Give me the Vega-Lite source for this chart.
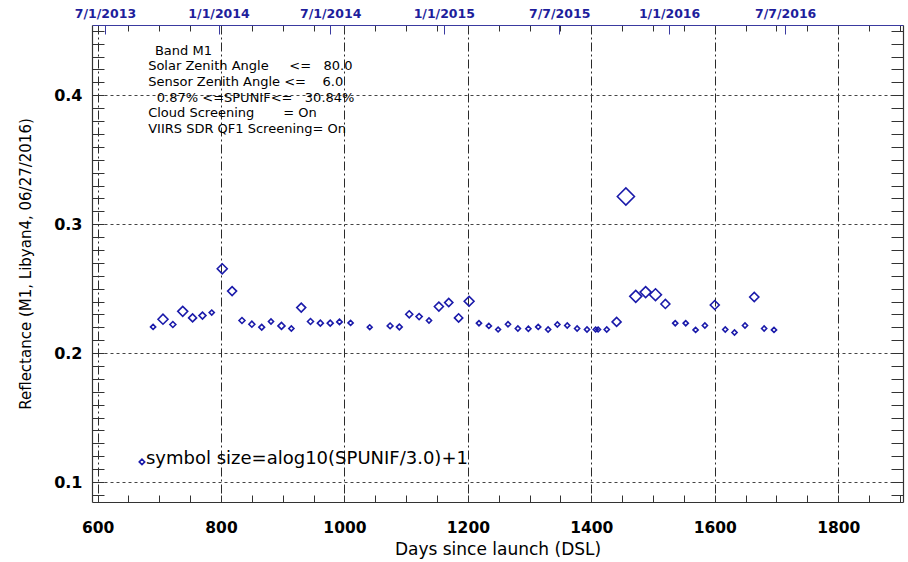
{
  "$schema": "https://vega.github.io/schema/vega-lite/v6.json",
  "width": 811,
  "height": 477,
  "autosize": {"type": "none"},
  "padding": {"left": 92, "top": 25, "right": 5, "bottom": 60},
  "background": "white",
  "config": {
    "view": {"stroke": null},
    "font": "DejaVu Sans",
    "axis": {"labelFont": "DejaVu Sans", "titleFont": "DejaVu Sans"}
  },
  "datasets": {
    "obs": [
      {"dsl": 690, "reflectance": 0.2203, "spunif": 1.2},
      {"dsl": 706, "reflectance": 0.2263, "spunif": 4.5},
      {"dsl": 722, "reflectance": 0.2222, "spunif": 1.5},
      {"dsl": 738, "reflectance": 0.2324, "spunif": 4.5},
      {"dsl": 754, "reflectance": 0.2273, "spunif": 2.6},
      {"dsl": 770, "reflectance": 0.2291, "spunif": 2.0},
      {"dsl": 785, "reflectance": 0.2314, "spunif": 1.2},
      {"dsl": 802, "reflectance": 0.2654, "spunif": 4.5},
      {"dsl": 818, "reflectance": 0.2481, "spunif": 3.4},
      {"dsl": 834, "reflectance": 0.2253, "spunif": 1.5},
      {"dsl": 850, "reflectance": 0.2224, "spunif": 1.5},
      {"dsl": 866, "reflectance": 0.2201, "spunif": 1.4},
      {"dsl": 881, "reflectance": 0.2245, "spunif": 1.2},
      {"dsl": 898, "reflectance": 0.2211, "spunif": 2.0},
      {"dsl": 914, "reflectance": 0.2191, "spunif": 1.2},
      {"dsl": 930, "reflectance": 0.2353, "spunif": 3.4},
      {"dsl": 945, "reflectance": 0.2245, "spunif": 1.5},
      {"dsl": 961, "reflectance": 0.2232, "spunif": 1.5},
      {"dsl": 977, "reflectance": 0.2232, "spunif": 1.5},
      {"dsl": 992, "reflectance": 0.2242, "spunif": 1.3},
      {"dsl": 1010, "reflectance": 0.2234, "spunif": 1.2},
      {"dsl": 1041, "reflectance": 0.2201, "spunif": 1.1},
      {"dsl": 1074, "reflectance": 0.2211, "spunif": 1.4},
      {"dsl": 1089, "reflectance": 0.2203, "spunif": 1.4},
      {"dsl": 1105, "reflectance": 0.2301, "spunif": 2.0},
      {"dsl": 1121, "reflectance": 0.2283, "spunif": 1.6},
      {"dsl": 1137, "reflectance": 0.2253, "spunif": 1.2},
      {"dsl": 1153, "reflectance": 0.2361, "spunif": 3.4},
      {"dsl": 1169, "reflectance": 0.2392, "spunif": 2.8},
      {"dsl": 1185, "reflectance": 0.2273, "spunif": 2.8},
      {"dsl": 1202, "reflectance": 0.2402, "spunif": 4.3},
      {"dsl": 1218, "reflectance": 0.2232, "spunif": 1.2},
      {"dsl": 1234, "reflectance": 0.2211, "spunif": 1.2},
      {"dsl": 1249, "reflectance": 0.2183, "spunif": 1.1},
      {"dsl": 1265, "reflectance": 0.2224, "spunif": 1.2},
      {"dsl": 1281, "reflectance": 0.2191, "spunif": 1.2},
      {"dsl": 1298, "reflectance": 0.2189, "spunif": 1.2},
      {"dsl": 1314, "reflectance": 0.2203, "spunif": 1.2},
      {"dsl": 1330, "reflectance": 0.2183, "spunif": 1.2},
      {"dsl": 1345, "reflectance": 0.2222, "spunif": 1.2},
      {"dsl": 1361, "reflectance": 0.2214, "spunif": 1.2},
      {"dsl": 1377, "reflectance": 0.2191, "spunif": 1.2},
      {"dsl": 1393, "reflectance": 0.2183, "spunif": 1.2},
      {"dsl": 1407, "reflectance": 0.2183, "spunif": 1.1},
      {"dsl": 1411, "reflectance": 0.2183, "spunif": 1.1},
      {"dsl": 1425, "reflectance": 0.2183, "spunif": 1.2},
      {"dsl": 1441, "reflectance": 0.2242, "spunif": 3.4},
      {"dsl": 1456, "reflectance": 0.3215, "spunif": 30.84},
      {"dsl": 1472, "reflectance": 0.2440, "spunif": 7.7},
      {"dsl": 1488, "reflectance": 0.2473, "spunif": 6.0},
      {"dsl": 1504, "reflectance": 0.2453, "spunif": 7.5},
      {"dsl": 1520, "reflectance": 0.2381, "spunif": 3.4},
      {"dsl": 1536, "reflectance": 0.2232, "spunif": 1.2},
      {"dsl": 1553, "reflectance": 0.2232, "spunif": 1.2},
      {"dsl": 1569, "reflectance": 0.2180, "spunif": 1.2},
      {"dsl": 1584, "reflectance": 0.2214, "spunif": 1.2},
      {"dsl": 1600, "reflectance": 0.2373, "spunif": 3.4},
      {"dsl": 1617, "reflectance": 0.2183, "spunif": 1.2},
      {"dsl": 1632, "reflectance": 0.2160, "spunif": 1.2},
      {"dsl": 1649, "reflectance": 0.2214, "spunif": 1.2},
      {"dsl": 1664, "reflectance": 0.2435, "spunif": 3.6},
      {"dsl": 1680, "reflectance": 0.2191, "spunif": 1.2},
      {"dsl": 1696, "reflectance": 0.2180, "spunif": 1.2}
    ],
    "key": [
      {"dsl": 672, "reflectance": 0.1156, "spunif": 1.3, "note": "symbol size=alog10(SPUNIF/3.0)+1"}
    ],
    "criteria": [
      {"dsl": 693, "reflectance": 0.4340, "note": "Band M1"},
      {"dsl": 682, "reflectance": 0.4224, "note": "Solar Zenith Angle\u00a0\u00a0\u00a0\u00a0\u00a0<=\u00a0\u00a0\u00a080.0"},
      {"dsl": 682, "reflectance": 0.4100, "note": "Sensor Zenith Angle <=\u00a0\u00a0\u00a0\u00a06.0"},
      {"dsl": 696, "reflectance": 0.3977, "note": "0.87% <=SPUNIF<=\u00a0\u00a0\u00a030.84%"},
      {"dsl": 682, "reflectance": 0.3861, "note": "Cloud Screening\u00a0\u00a0\u00a0\u00a0\u00a0\u00a0\u00a0= On"},
      {"dsl": 682, "reflectance": 0.3737, "note": "VIIRS SDR QF1 Screening= On"}
    ]
  },
  "layer": [
    {
      "data": {"name": "key"},
      "transform": [{"calculate": "log(datum.spunif / 3) / LN10 + 1", "as": "symbol"}],
      "mark": {"type": "point", "shape": "diamond", "filled": false, "strokeWidth": 1.6, "color": "#1a1aaa", "opacity": 1},
      "encoding": {
        "x": {"field": "dsl", "type": "quantitative", "scale": {"domain": [591, 1905], "nice": false, "zero": false},
          "axis": {"orient": "bottom", "title": null, "values": [600, 800, 1000, 1200, 1400, 1600, 1800], "grid": true, "gridColor": "#2a2a2a", "gridDash": [9, 3, 2, 3], "gridWidth": 1, "ticks": false, "labels": false, "domain": false}},
        "y": {"field": "reflectance", "type": "quantitative", "scale": {"domain": [0.0845, 0.4545], "nice": false, "zero": false},
          "axis": {"orient": "left", "title": null, "values": [0.1, 0.2, 0.3, 0.4], "grid": true, "gridColor": "#444444", "gridDash": [3, 3], "gridWidth": 1, "ticks": false, "labels": false, "domain": false}},
        "size": {"field": "symbol", "type": "quantitative", "scale": {"type": "pow", "exponent": 2, "domain": [0, 2], "range": [0, 289]}, "legend": null}
      }
    },
    {
      "data": {"name": "key"},
      "mark": {"type": "text", "align": "left", "baseline": "middle", "dx": 4, "dy": -3, "fontSize": 18, "color": "black", "font": "DejaVu Sans"},
      "encoding": {
        "x": {"field": "dsl", "type": "quantitative", "scale": {"domain": [591, 1905], "nice": false, "zero": false},
          "axis": {"orient": "top", "title": null, "values": [600, 650, 700, 750, 800, 850, 900, 950, 1000, 1050, 1100, 1150, 1200, 1250, 1300, 1350, 1400, 1450, 1500, 1550, 1600, 1650, 1700, 1750, 1800, 1850, 1900], "tickSize": -6, "tickColor": "#333333", "labels": false, "domain": false, "grid": false}},
        "y": {"field": "reflectance", "type": "quantitative", "scale": {"domain": [0.0845, 0.4545], "nice": false, "zero": false},
          "axis": {"orient": "right", "title": null, "values": [0.09, 0.1, 0.11, 0.12, 0.13, 0.14, 0.15, 0.16, 0.17, 0.18, 0.19, 0.2, 0.21, 0.22, 0.23, 0.24, 0.25, 0.26, 0.27, 0.28, 0.29, 0.3, 0.31, 0.32, 0.33, 0.34, 0.35, 0.36, 0.37, 0.38, 0.39, 0.4, 0.41, 0.42, 0.43, 0.44, 0.45], "tickSize": -12, "tickColor": "#333333", "labels": false, "domain": true, "domainColor": "#333333", "domainWidth": 1.2, "grid": false}},
        "text": {"field": "note"}
      }
    },
    {
      "data": {"name": "criteria"},
      "mark": {"type": "text", "align": "left", "baseline": "middle", "fontSize": 13, "color": "black", "font": "DejaVu Sans"},
      "encoding": {
        "x": {"field": "dsl", "type": "quantitative", "scale": {"domain": [591, 1905], "nice": false, "zero": false},
          "axis": {"orient": "top", "title": null, "values": [612, 796, 977, 1161, 1348, 1526, 1714],
            "labelExpr": "datum.value == 612 ? '7/1/2013' : datum.value == 796 ? '1/1/2014' : datum.value == 977 ? '7/1/2014' : datum.value == 1161 ? '1/1/2015' : datum.value == 1348 ? '7/7/2015' : datum.value == 1526 ? '1/1/2016' : '7/7/2016'",
            "labelColor": "#1e1e9c", "labelFontSize": 12.5, "labelFontWeight": "bold", "labelPadding": 14, "labelFlush": false,
            "tickSize": -9, "tickColor": "#3a3aa0", "domain": true, "domainColor": "#3a3aa0", "domainWidth": 1.2, "grid": false}},
        "y": {"field": "reflectance", "type": "quantitative", "scale": {"domain": [0.0845, 0.4545], "nice": false, "zero": false}, "axis": null},
        "text": {"field": "note"}
      }
    },
    {
      "data": {"name": "obs"},
      "transform": [{"calculate": "log(datum.spunif / 3) / LN10 + 1", "as": "symbol"}],
      "mark": {"type": "point", "shape": "diamond", "filled": false, "strokeWidth": 1.6, "color": "#1a1aaa", "opacity": 1},
      "encoding": {
        "x": {"field": "dsl", "type": "quantitative", "scale": {"domain": [591, 1905], "nice": false, "zero": false},
          "axis": {"orient": "bottom", "title": "Days since launch (DSL)", "titleFontSize": 17, "titleFontWeight": "normal", "titleColor": "black", "titlePadding": 6,
            "values": [600, 650, 700, 750, 800, 850, 900, 950, 1000, 1050, 1100, 1150, 1200, 1250, 1300, 1350, 1400, 1450, 1500, 1550, 1600, 1650, 1700, 1750, 1800, 1850, 1900],
            "labelExpr": "datum.value % 200 == 0 ? datum.label : ''", "format": "d",
            "labelFontSize": 15.5, "labelFontWeight": "bold", "labelColor": "black", "labelPadding": 25, "labelFlush": false,
            "tickSize": -7, "tickColor": "#333333", "domain": true, "domainColor": "#333333", "domainWidth": 1.2, "grid": false}},
        "y": {"field": "reflectance", "type": "quantitative", "scale": {"domain": [0.0845, 0.4545], "nice": false, "zero": false},
          "axis": {"orient": "left", "title": "Reflectance (M1, Libyan4, 06/27/2016)", "titleFontSize": 15, "titleFontWeight": "normal", "titleColor": "black", "titlePadding": 20,
            "values": [0.09, 0.1, 0.11, 0.12, 0.13, 0.14, 0.15, 0.16, 0.17, 0.18, 0.19, 0.2, 0.21, 0.22, 0.23, 0.24, 0.25, 0.26, 0.27, 0.28, 0.29, 0.3, 0.31, 0.32, 0.33, 0.34, 0.35, 0.36, 0.37, 0.38, 0.39, 0.4, 0.41, 0.42, 0.43, 0.44, 0.45],
            "labelExpr": "abs(datum.value * 10 - round(datum.value * 10)) < 0.001 ? format(datum.value, '.1f') : ''",
            "labelFontSize": 16, "labelFontWeight": "bold", "labelColor": "black", "labelPadding": 22, "labelFlush": false,
            "tickSize": -12, "tickColor": "#333333", "domain": true, "domainColor": "#333333", "domainWidth": 1.2, "grid": false}},
        "size": {"field": "symbol", "type": "quantitative", "scale": {"type": "pow", "exponent": 2, "domain": [0, 2], "range": [0, 289]}, "legend": null}
      }
    }
  ],
  "resolve": {
    "scale": {"x": "shared", "y": "shared", "size": "shared"},
    "axis": {"x": "independent", "y": "independent"}
  }
}
